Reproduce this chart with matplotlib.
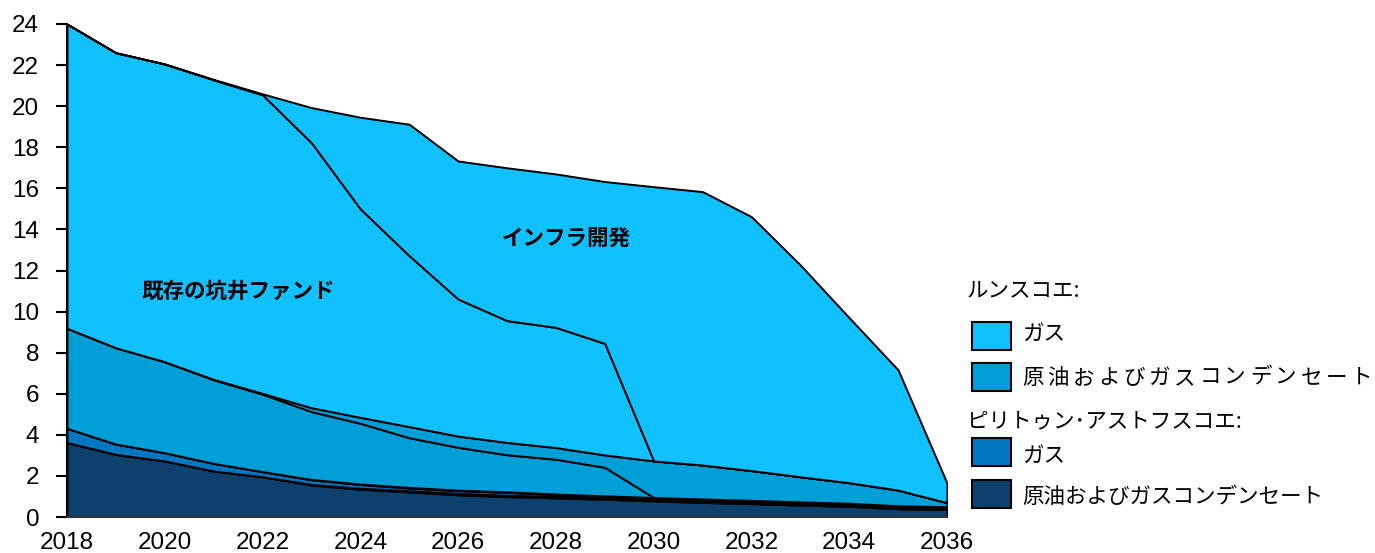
import matplotlib
import matplotlib.pyplot as plt
from matplotlib.patches import Rectangle

matplotlib.use('Agg')

# years on the x axis
years = list(range(2018, 2037))

# Piltun-Astokhskoye: oil & condensate (existing wells / new development)
pa_oil_exist = [3.63, 3.05, 2.73, 2.24, 1.96, 1.56, 1.35, 1.22, 1.08, 0.99,
                0.93, 0.86, 0.78, 0.71, 0.65, 0.58, 0.52, 0.40, 0.37]
pa_oil_new = [0, 0, 0, 0, 0, 0.03, 0.05, 0.06, 0.07, 0.07,
              0.07, 0.07, 0.07, 0.07, 0.07, 0.07, 0.06, 0.05, 0.05]
# Piltun-Astokhskoye: gas
pa_gas_exist = [0.69, 0.50, 0.40, 0.37, 0.25, 0.22, 0.18, 0.13, 0.13, 0.14,
                0.09, 0.07, 0.07, 0.07, 0.06, 0.06, 0.06, 0.07, 0.05]
pa_gas_new = [0, 0, 0, 0, 0, 0.02, 0.03, 0.03, 0.03, 0.03,
              0.03, 0.03, 0.03, 0.03, 0.03, 0.03, 0.03, 0.03, 0.03]
# Lunskoye: oil & condensate
l_oil_exist = [4.87, 4.69, 4.43, 4.07, 3.77, 3.30, 2.95, 2.42, 2.08, 1.80,
               1.69, 1.39, 0, 0, 0, 0, 0, 0, 0]
l_oil_new = [0, 0, 0, 0.02, 0.04, 0.19, 0.29, 0.54, 0.55, 0.60,
             0.57, 0.60, 1.78, 1.65, 1.45, 1.22, 1.00, 0.76, 0.20]
# Lunskoye: gas
l_gas_exist = [14.81, 14.36, 14.49, 14.58, 14.53, 12.90, 10.15, 8.32, 6.67, 5.93,
               5.85, 5.43, 0, 0, 0, 0, 0, 0, 0]
l_gas_new = [0, 0, 0, 0.02, 0.05, 1.71, 4.46, 6.40, 6.72, 7.44,
             7.47, 7.88, 13.35, 13.31, 12.36, 10.31, 8.03, 5.85, 0.95]

c_l_gas = '#10c0ff'
c_l_oil = '#009ed6'
c_pa_gas = '#0077c0'
c_pa_oil = '#0c416e'

jp = ['Noto Sans CJK JP', 'DejaVu Sans']
plt.rcParams['font.family'] = ['Liberation Sans', 'DejaVu Sans']

fig = plt.figure(figsize=(13.75, 5.53), dpi=100)
ax = fig.add_axes([67 / 1375, 36 / 553, 880 / 1375, 493 / 553])

ax.stackplot(years,
             pa_oil_exist, pa_oil_new, pa_gas_exist, pa_gas_new,
             l_oil_exist, l_oil_new, l_gas_exist, l_gas_new,
             colors=[c_pa_oil, c_pa_oil, c_pa_gas, c_pa_gas,
                     c_l_oil, c_l_oil, c_l_gas, c_l_gas],
             edgecolor='black', linewidth=1.4)

ax.set_xlim(2018, 2036)
ax.set_ylim(0, 24)
ax.set_xticks(range(2018, 2037, 2))
ax.set_yticks(range(0, 25, 2))
for s in ['top', 'right']:
  ax.spines[s].set_visible(False)
ax.spines['left'].set_linewidth(1.5)
ax.spines['bottom'].set_linewidth(1.5)
ax.spines['bottom'].set_color('#333333')
ax.tick_params(axis='y', direction='out', length=8, width=1.5, pad=12, labelsize=17.5)
ax.tick_params(axis='x', length=0, pad=11, labelsize=17.5)

ax.text(2021.5, 11.0, '既存の坑井ファンド', family=jp, fontsize=15.5,
        fontweight='bold', ha='center', va='center')
ax.text(2028.2, 13.5, 'インフラ開発', family=jp, fontsize=15.5,
        fontweight='bold', ha='center', va='center')

# legend drawn by hand on the right
def px(x, y):
  return x / 1375, 1 - y / 553

fs = 15.5
fig.text(*px(967, 290), 'ルンスコエ:', family=jp, fontsize=fs, va='center')
fig.text(*px(967, 421), 'ピリトゥン･アストフスコエ:', family=jp, fontsize=fs, va='center')

rows = [
  (336, 334, c_l_gas, 'ガス', False),
  (377, 378, c_l_oil, '原油およびガスコンデンセート', True),
  (452, 456, c_pa_gas, 'ガス', False),
  (494, 497, c_pa_oil, '原油およびガスコンデンセート', False),
]
for yc, yt, color, label, spaced in rows:
  x0, y0 = px(972, yc + 14)
  fig.patches.append(Rectangle((x0, y0), 39 / 1375, 28 / 553, transform=fig.transFigure,
                               facecolor=color, edgecolor='black', linewidth=1.5))
  if spaced:
    for i, ch in enumerate(label):
      fig.text(*px(1022 + i * 25.3, yt), ch, family=jp, fontsize=fs, va='center')
  else:
    fig.text(*px(1022, yt), label, family=jp, fontsize=fs, va='center')

plt.savefig('out.png', dpi=100)
